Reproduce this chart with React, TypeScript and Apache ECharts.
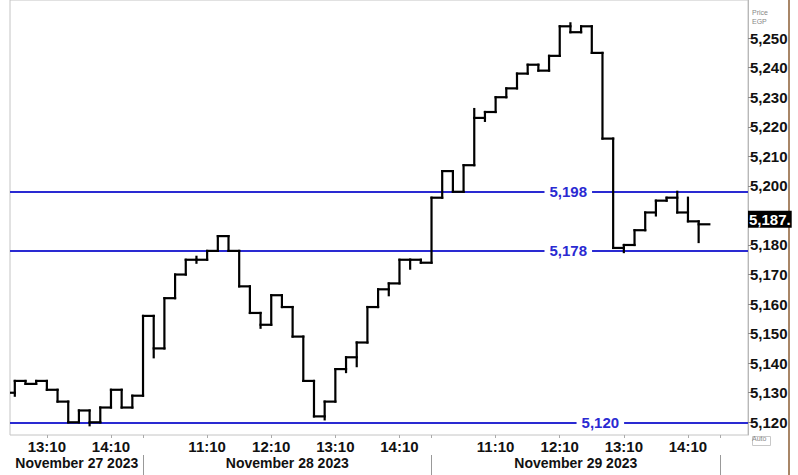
import React, { useEffect, useRef } from "react";
import * as echarts from "echarts";

// 10-minute closes, slot index 0 = Nov 27 12:30 ... slot 65 = Nov 29 14:20
const CLOSES = [
  5130, 5134, 5133, 5134, 5131, 5127, 5120, 5124, 5120, 5125, 5131, 5125, 5129,
  5156, 5145, 5162, 5170, 5175, 5175, 5178, 5183, 5178, 5166, 5157, 5153, 5163,
  5159, 5149, 5134, 5122, 5127, 5138, 5142, 5147, 5159, 5165, 5167, 5175, 5175, 5174,
  5196, 5205, 5198, 5207, 5223, 5225, 5230, 5233, 5238, 5241, 5239, 5244, 5254,
  5252, 5254, 5245, 5216, 5179, 5180, 5185, 5191, 5195, 5196, 5191, 5188, 5187,
];
// [slot, value]
const LOW_WICKS: [number, number][] = [
  [1, 5129], [8, 5119], [14, 5142], [18, 5174], [24, 5152], [30, 5121], [32, 5137],
  [33, 5139], [36, 5163], [38, 5172], [45, 5222], [54, 5252], [58, 5177.6], [61, 5190], [65, 5181],
];
const HIGH_WICKS: [number, number][] = [
  [18, 5176], [44, 5226], [53, 5255], [63, 5198], [64, 5196],
];

const LEVELS = [5198, 5178, 5120];
const LEVEL_LABELS = ["5,198", "5,178", "5,120"];
const LAST_PRICE = 5187;
const LAST_PRICE_LABEL = "5,187";

const Y_TICKS = [5120, 5130, 5140, 5150, 5160, 5170, 5180, 5190, 5200, 5210, 5220, 5230, 5240, 5250];
const TIME_TICKS = [4, 10, 19, 25, 31, 37, 46, 52, 58, 64];
const TIME_LABELS = ["13:10", "14:10", "11:10", "12:10", "13:10", "14:10", "11:10", "12:10", "13:10", "14:10"];
const DAY_BOUNDS = [13, 40, 67];
const DAY_CENTERS = [6.8, 26.5, 53.5];
const DAY_LABELS = ["November 27 2023", "November 28 2023", "November 29 2023"];

// layout constants
const X_MIN = 0.55;
const X_MAX = 69.62;
const Y_MIN = 5115.7;
const Y_MAX = 5262.9;
const LEVEL_LABEL_X = [52.8, 52.8, 55.8];

const FONT = "Liberation Sans, Arial, sans-serif";
const BLUE = "#2a2ad2";

function lookup(ticks: number[], labels: string[], v: number): string {
  for (let i = 0; i < ticks.length; i++) if (Math.abs(ticks[i] - v) < 1e-6) return labels[i];
  return "";
}

export default function App() {
  const ref = useRef<HTMLDivElement>(null);
  useEffect(() => {
    if (!ref.current) return;
    const chart = echarts.init(ref.current, undefined, { renderer: "svg" });
    const lowOf = (i: number) => {
      const w = LOW_WICKS.find((p) => p[0] === i);
      return w ? w[1] : CLOSES[i];
    };
    const highOf = (i: number) => {
      const w = HIGH_WICKS.find((p) => p[0] === i);
      return w ? w[1] : CLOSES[i];
    };
    const data = CLOSES.map((c, i) => [i, c, lowOf(i), highOf(i), i > 0 ? CLOSES[i - 1] : c]);

    const option: any = {
      animation: false,
      backgroundColor: "#ffffff",
      grid: {
        left: 10,
        right: 50,
        top: 0,
        bottom: 40,
        show: true,
        borderColor: "#c4c4c4",
        borderWidth: 1,
        backgroundColor: "#ffffff",
      },
      xAxis: [
        {
          type: "value",
          min: X_MIN,
          max: X_MAX,
          position: "bottom",
          axisLine: { show: false },
          splitLine: { show: false },
          axisTick: { show: true, customValues: [...TIME_TICKS, ...DAY_BOUNDS], length: 3, lineStyle: { color: "#aaaaaa" } },
          axisLabel: {
            customValues: TIME_TICKS,
            formatter: (v: number) => lookup(TIME_TICKS, TIME_LABELS, v),
            fontFamily: FONT,
            fontWeight: "bold",
            fontSize: 15,
            color: "#111",
            margin: 4,
          },
        },
        {
          type: "value",
          min: X_MIN,
          max: X_MAX,
          position: "bottom",
          offset: 20,
          axisLine: { show: false },
          splitLine: { show: false },
          axisTick: { show: true, customValues: DAY_BOUNDS, length: 20, lineStyle: { color: "#999999" } },
          axisLabel: {
            customValues: DAY_CENTERS,
            formatter: (v: number) => lookup(DAY_CENTERS, DAY_LABELS, v),
            fontFamily: FONT,
            fontWeight: "bold",
            fontSize: 14,
            color: "#111",
            margin: 1,
          },
        },
      ],
      yAxis: {
        type: "value",
        position: "right",
        min: Y_MIN,
        max: Y_MAX,
        splitLine: { show: false },
        axisLine: { show: true, lineStyle: { color: "#b8b8b8" } },
        axisTick: { show: true, customValues: Y_TICKS, length: 3, lineStyle: { color: "#888" } },
        axisLabel: {
          customValues: Y_TICKS,
          formatter: (v: number) => v.toLocaleString("en-US"),
          fontFamily: FONT,
          fontWeight: "bold",
          fontSize: 15,
          color: "#111",
          margin: 2,
          padding: [4, 0, 0, 0],
        },
      },
      series: [
        {
          type: "line",
          data: [],
          silent: true,
          markLine: {
            silent: true,
            symbol: "none",
            animation: false,
            data: [
              ...LEVELS.map((v) => ({
                yAxis: v,
                lineStyle: { color: BLUE, width: 2, type: "solid" },
                label: { show: false },
              })),
              {
                yAxis: LAST_PRICE,
                lineStyle: { color: "rgba(0,0,0,0)", width: 1 },
                label: {
                  show: true,
                  position: "end",
                  distance: 0,
                  offset: [0, -5],
                  formatter: LAST_PRICE_LABEL + ".",
                  backgroundColor: "#000",
                  color: "#fff",
                  fontFamily: FONT,
                  fontWeight: "bold",
                  fontSize: 15,
                  padding: [1, 1, 1, 1],
                },
              },
            ],
          },
          markPoint: {
            silent: true,
            symbol: "rect",
            symbolSize: 1,
            itemStyle: { color: "rgba(0,0,0,0)" },
            data: LEVELS.map((v, i) => ({
              coord: [LEVEL_LABEL_X[i], v],
              label: {
                show: true,
                position: "inside",
                formatter: LEVEL_LABELS[i],
                color: BLUE,
                fontFamily: FONT,
                fontWeight: "bold",
                fontSize: 15,
                backgroundColor: "#ffffff",
                padding: [1, 5, 0, 5],
              },
            })),
          },
        },
        {
          type: "custom",
          clip: true,
          data,
          encode: { x: 0, y: 1 },
          z: 5,
          renderItem: (params: any, api: any) => {
            const g = api.value(0);
            const c = api.value(1);
            const lo = api.value(2);
            const hi = api.value(3);
            const prev = api.value(4);
            const p0 = api.coord([g, c]);
            const p1 = api.coord([g + 1, c]);
            const top = api.coord([g, Math.max(hi, c, prev)]);
            const bot = api.coord([g, Math.min(lo, c, prev)]);
            const st = { stroke: "#000", lineWidth: 2.2, lineCap: "square" };
            return {
              type: "group",
              children: [
                { type: "line", shape: { x1: p0[0], y1: p0[1], x2: p1[0], y2: p1[1] }, style: st },
                { type: "line", shape: { x1: top[0], y1: top[1], x2: bot[0], y2: bot[1] }, style: st },
              ],
            };
          },
        },
      ],
      graphic: [
        { type: "text", left: 752, top: 9, style: { text: "Price", fontSize: 7, fill: "#888", fontFamily: FONT } },
        { type: "text", left: 752, top: 18, style: { text: "EGP", fontSize: 7, fill: "#888", fontFamily: FONT } },
        { type: "rect", left: 750, top: 434, shape: { width: 18, height: 9 }, style: { fill: "none", stroke: "#c8c8c8", lineWidth: 1 } },
        { type: "text", left: 752, top: 435, style: { text: "Auto", fontSize: 7, fill: "#888", fontFamily: FONT } },
        { type: "line", shape: { x1: 789, y1: 0, x2: 789, y2: 475 }, style: { stroke: "#8b5e34", lineWidth: 1.5 } },
      ],
    };
    chart.setOption(option);
    return () => chart.dispose();
  }, []);
  return (
    <div
      ref={ref}
      style={{ position: "fixed", left: 0, top: 0, width: 798, height: 475, background: "#fff" }}
    />
  );
}
